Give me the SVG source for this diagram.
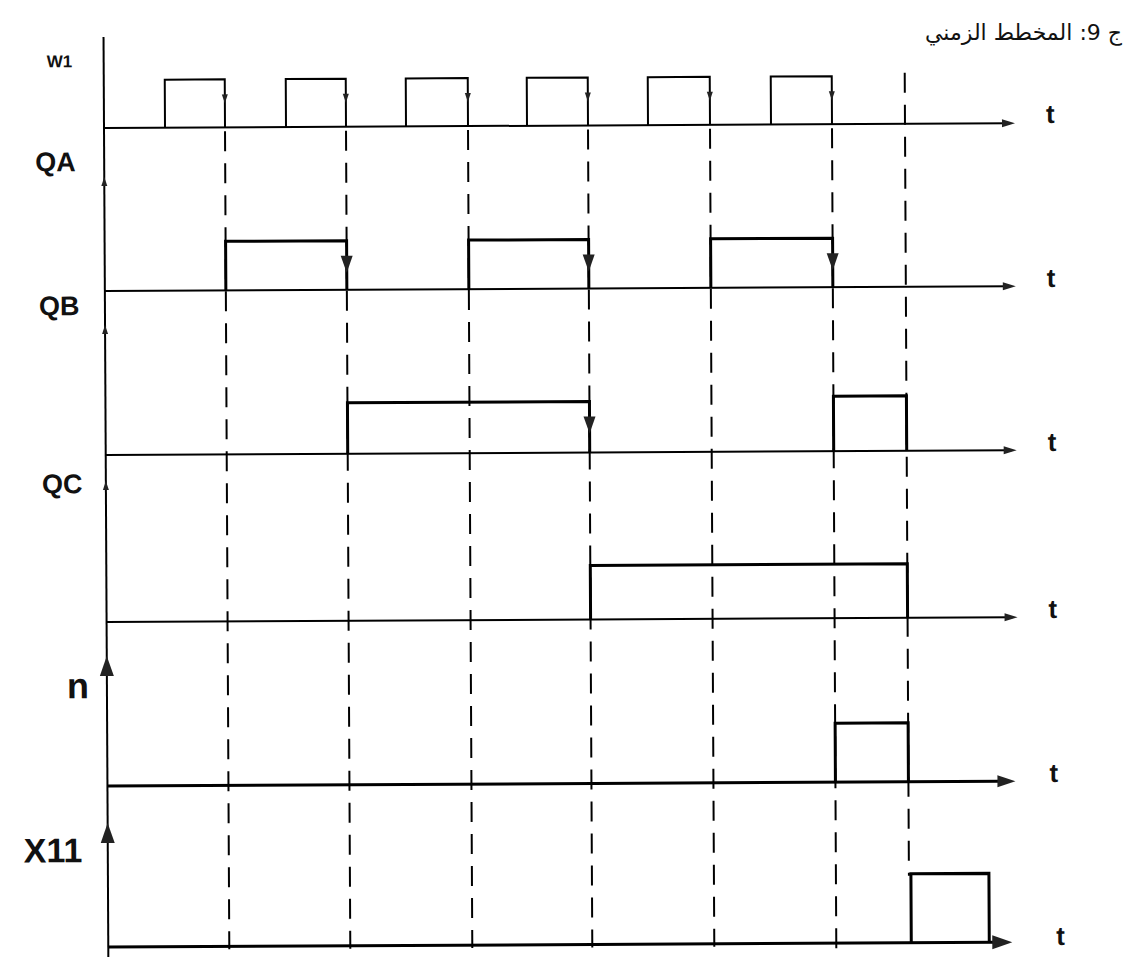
<svg xmlns="http://www.w3.org/2000/svg" width="1129" height="957" viewBox="0 0 1129 957">
<style>
.ax{stroke:#000;stroke-width:2;fill:none}
.axb{stroke:#000;stroke-width:3;fill:none}
.sig{stroke:#000;stroke-width:3;fill:none;stroke-linejoin:miter}
.sigt{stroke:#000;stroke-width:2;fill:none}
.dash{stroke:#000;stroke-width:2;fill:none;stroke-dasharray:20 12}
.ah{fill:#222;stroke:none}
.lbl{font-family:"Liberation Sans",Arial,sans-serif;font-weight:bold;fill:#111}
.t{font-family:"Liberation Sans",Arial,sans-serif;font-weight:bold;font-size:26px;fill:#111}
</style>
<rect width="1129" height="957" fill="#fff"/>
<text x="1122" y="40" font-family="DejaVu Sans, sans-serif" font-size="22" text-anchor="end" fill="#111">ج 9: المخطط الزمني</text>
<g transform="rotate(-0.3 104 128)">
<g id="connectors">
  <line class="ax" x1="104" y1="37" x2="104" y2="957"/>
  <line class="ax" x1="104" y1="128" x2="1010" y2="128"/>
  <line class="ax" x1="104" y1="291" x2="1010" y2="291"/>
  <line class="ax" x1="104" y1="455" x2="1010" y2="455"/>
  <line class="ax" x1="104" y1="622" x2="1010" y2="622"/>
  <line class="axb" x1="104" y1="786" x2="998" y2="786"/>
  <line class="axb" x1="104" y1="947" x2="992" y2="947"/>
  <polygon class="ah" points="1002,124 1015,128 1002,132"/>
  <polygon class="ah" points="1002,287 1015,291 1002,295"/>
  <polygon class="ah" points="1002,451 1015,455 1002,459"/>
  <polygon class="ah" points="1002,618 1015,622 1002,626"/>
  <polygon class="ah" points="994,780 1012,786 994,792"/>
  <polygon class="ah" points="988,940 1008,947 988,954"/>
  <polygon class="ah" points="101,186 107,186 104,177"/>
  <polygon class="ah" points="101,334 107,334 104,325"/>
  <polygon class="ah" points="101,490 107,490 104,481"/>
  <polygon class="ah" points="97,676 111,676 104,656"/>
  <polygon class="ah" points="97,843 111,843 104,823"/>
  <line class="dash" x1="225" y1="132" x2="225" y2="950"/>
  <line class="dash" x1="346" y1="132" x2="346" y2="950"/>
  <line class="dash" x1="468" y1="132" x2="468" y2="950"/>
  <line class="dash" x1="588" y1="132" x2="588" y2="950"/>
  <line class="dash" x1="710" y1="132" x2="710" y2="950"/>
  <line class="dash" x1="832" y1="132" x2="832" y2="957"/>
  <line class="dash" x1="905" y1="77" x2="905" y2="880"/>
</g>
<g id="W1">
  <path class="sigt" d="M165,128 V80 H225 V128 M286,128 V80 H346 V128 M406,128 V80 H468 V128 M527,128 V80 H588 V128 M648,128 V80 H710 V128 M771,128 V80 H832 V128"/>
  <polygon class="ah" points="222,95 228,95 225,104"/>
  <polygon class="ah" points="343,95 349,95 346,104"/>
  <polygon class="ah" points="465,95 471,95 468,104"/>
  <polygon class="ah" points="585,95 591,95 588,104"/>
  <polygon class="ah" points="707,95 713,95 710,104"/>
  <polygon class="ah" points="829,95 835,95 832,104"/>
</g>
<g id="QA">
  <path class="sig" d="M225,291 V242 H346 V291 M468,291 V242 H588 V291 M710,291 V242 H832 V291"/>
  <polygon class="ah" points="340,257 352,257 346,274"/>
  <polygon class="ah" points="582,257 594,257 588,274"/>
  <polygon class="ah" points="826,257 838,257 832,274"/>
</g>
<g id="QB">
  <path class="sig" d="M346,455 V404 H588 V455 M832,455 V400 H905 V455"/>
  <polygon class="ah" points="582,419 594,419 588,436"/>
</g>
<g id="QC">
  <path class="sig" d="M588,622 V568 H905 V622"/>
</g>
<g id="n">
  <path class="sig" d="M832,786 V727 H905 V786"/>
</g>
<g id="X11">
  <path class="sig" d="M907,947 V878 H985 V947"/>
</g>
<g id="labels">
  <text class="lbl" x="47" y="67" font-size="17">W1</text>
  <text class="lbl" x="35" y="171" font-size="27">QA</text>
  <text class="lbl" x="38" y="315" font-size="27">QB</text>
  <text class="lbl" x="40" y="493" font-size="27">QC</text>
  <text class="lbl" x="64" y="698" font-size="36">n</text>
  <text class="lbl" x="20" y="862" font-size="34">X11</text>
  <text class="t" x="1046" y="128">t</text>
  <text class="t" x="1046" y="292">t</text>
  <text class="t" x="1046" y="456">t</text>
  <text class="t" x="1046" y="623">t</text>
  <text class="t" x="1046" y="787">t</text>
  <text class="t" x="1052" y="950">t</text>
</g>
</g>
</svg>
